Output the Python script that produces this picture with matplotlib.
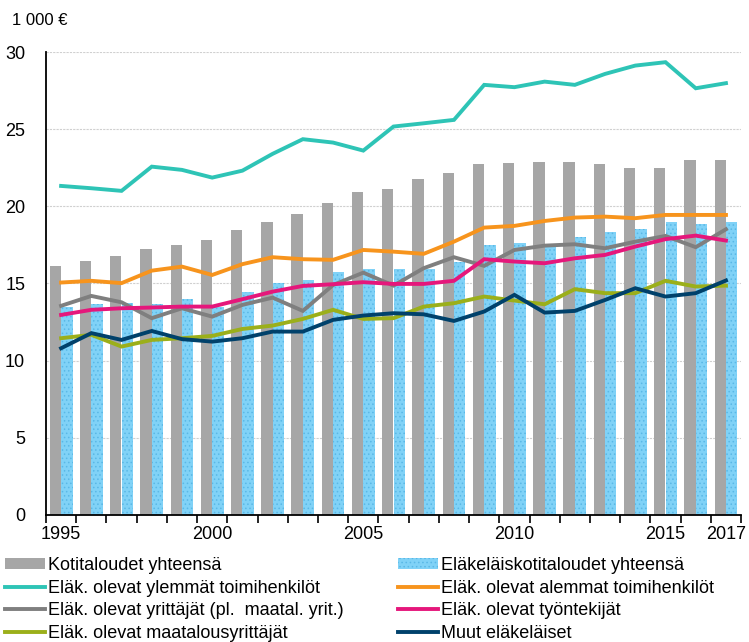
import matplotlib
matplotlib.use("Agg")
import matplotlib.pyplot as plt
import numpy as np

plt.rcParams['font.family'] = ['Liberation Sans', 'DejaVu Sans']

years = list(range(1995, 2018))
tick_years = [1995, 2000, 2005, 2010, 2015, 2017]

kotitaloudet = [16.16, 16.46, 16.79, 17.22, 17.50, 17.82, 18.47, 18.97, 19.49, 20.22, 20.93,
                21.15, 21.78, 22.19, 22.73, 22.81, 22.90, 22.90, 22.73, 22.51, 22.51, 23.03, 23.03]
elakelaiskotit = [13.46, 13.67, 13.76, 13.65, 13.98, 13.50, 14.47, 15.02, 15.21, 15.74, 15.94,
                  15.95, 15.95, 16.42, 17.52, 17.60, 17.33, 18.04, 18.33, 18.53, 18.96, 18.86, 18.96]

ylemmat = [21.32, 21.17, 21.00, 22.57, 22.36, 21.86, 22.31, 23.40, 24.35, 24.13, 23.61,
           25.17, 25.38, 25.60, 27.87, 27.72, 28.08, 27.87, 28.58, 29.12, 29.34, 27.65, 27.98]
alemmat = [15.06, 15.17, 15.02, 15.83, 16.09, 15.55, 16.25, 16.70, 16.57, 16.53, 17.17,
           17.06, 16.92, 17.71, 18.62, 18.73, 19.05, 19.27, 19.33, 19.23, 19.44, 19.44, 19.44]
yrittajat = [13.55, 14.19, 13.78, 12.75, 13.39, 12.85, 13.61, 14.08, 13.22, 14.90, 15.70,
             14.86, 15.99, 16.70, 16.14, 17.17, 17.45, 17.54, 17.28, 17.71, 18.08, 17.35, 18.51]
tyontekijat = [12.96, 13.29, 13.39, 13.44, 13.50, 13.50, 13.98, 14.47, 14.84, 14.95, 15.08,
               14.97, 14.97, 15.17, 16.57, 16.42, 16.31, 16.63, 16.85, 17.39, 17.87, 18.10, 17.78]
maatalous = [11.45, 11.67, 10.91, 11.34, 11.45, 11.60, 12.05, 12.27, 12.70, 13.29, 12.70,
             12.75, 13.50, 13.72, 14.15, 13.89, 13.65, 14.63, 14.37, 14.37, 15.17, 14.80, 14.86]
muut = [10.80, 11.78, 11.34, 11.92, 11.39, 11.23, 11.45, 11.88, 11.88, 12.64, 12.92,
        13.07, 13.00, 12.57, 13.18, 14.26, 13.11, 13.22, 13.93, 14.69, 14.15, 14.37, 15.19]

bar_labels = ["Kotitaloudet yhteensä", "Eläkeläiskotitaloudet yhteensä"]
line_labels = ["Eläk. olevat ylemmät toimihenkilöt", "Eläk. olevat alemmat toimihenkilöt",
               "Eläk. olevat yrittäjät (pl.  maatal. yrit.)", "Eläk. olevat työntekijät",
               "Eläk. olevat maatalousyrittäjät", "Muut eläkeläiset"]
line_colors = ["#2EC4B6", "#F7941D", "#7F7F7F", "#E5177B", "#9BAF1A", "#00416B"]

fig = plt.figure(figsize=(7.49, 6.42), dpi=100)
ax = fig.add_axes([0.0614, 0.198, 0.928, 0.721])

x = np.arange(len(years))
w = 0.375
plt.rcParams['hatch.color'] = '#5AB8E6'
plt.rcParams['hatch.linewidth'] = 0.6
b1 = ax.bar(x - 0.19, kotitaloudet, width=w, color="#A6A6A6", zorder=2, label=bar_labels[0])
b2 = ax.bar(x + 0.19, elakelaiskotit, width=w, color="#80D2F7", hatch='....', linewidth=0,
            zorder=2, label=bar_labels[1])

series = [ylemmat, alemmat, yrittajat, tyontekijat, maatalous, muut]
lines = []
for s, c, l in zip(series, line_colors, line_labels):
    ln, = ax.plot(x, s, color=c, lw=2.8, zorder=3, label=l, solid_joinstyle='miter')
    lines.append(ln)

ax.set_xlim(-0.5, len(years) - 0.5)
ax.set_ylim(0, 30)
ax.set_yticks(np.arange(0, 31, 5))
ax.yaxis.grid(True, color="#D0D0D0", linestyle=(0, (2, 1)), linewidth=0.8, zorder=0)
ax.set_axisbelow(True)

ax.set_xticks([years.index(y) for y in tick_years])
ax.set_xticklabels([str(y) for y in tick_years])
ax.set_xticks(np.arange(-0.5, len(years), 1.0), minor=True)
ax.tick_params(axis='x', which='major', length=0, labelsize=13, pad=8)
ax.tick_params(axis='x', which='minor', length=6, width=1.2, direction='out', color='black')
ax.tick_params(axis='y', length=0, labelsize=13, pad=15)

for sp in ['top', 'right']:
    ax.spines[sp].set_visible(False)
ax.spines['left'].set_color('black')
ax.spines['left'].set_linewidth(1.3)
ax.spines['bottom'].set_color('black')
ax.spines['bottom'].set_linewidth(1.3)

fig.text(0.016, 0.968, "1 000 €", fontsize=12, ha='left', va='center')

leg_kw = dict(loc='upper left', frameon=False, fontsize=13, handlelength=2.2,
              handletextpad=0.2, labelspacing=0.3, borderaxespad=0, borderpad=0,
              handleheight=0.55)
fig.legend([b1, lines[0], lines[2], lines[4]],
           [bar_labels[0], line_labels[0], line_labels[2], line_labels[4]],
           bbox_to_anchor=(5 / 749, 0.132), **leg_kw)
fig.legend([b2, lines[1], lines[3], lines[5]],
           [bar_labels[1], line_labels[1], line_labels[3], line_labels[5]],
           bbox_to_anchor=(398 / 749, 0.132), **leg_kw)

fig.savefig("out.png", dpi=100)
